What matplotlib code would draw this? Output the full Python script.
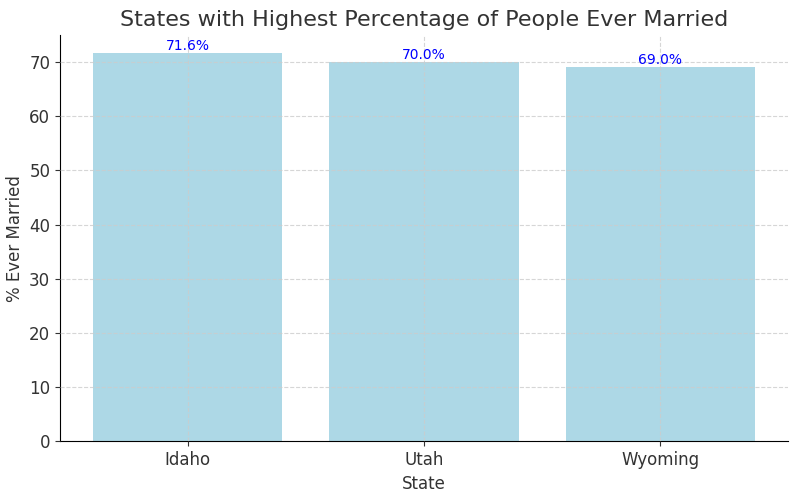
import matplotlib
matplotlib.use("Agg")
import matplotlib.pyplot as plt

states = ["Idaho", "Utah", "Wyoming"]
values = [71.6, 70.0, 69.0]
labels = ["71.6%", "70.0%", "69.0%"]

fig, ax = plt.subplots(figsize=(8, 4.96), dpi=100)
bars = ax.bar(states, values, color="lightblue", width=0.8, zorder=2)
for b, l in zip(bars, labels):
    ax.text(b.get_x() + b.get_width()/2, b.get_height(), l, ha="center", va="bottom", color="blue", fontsize=10)
ax.set_title("States with Highest Percentage of People Ever Married", fontsize=16, color="#333333")
ax.set_xlabel("State", fontsize=12, color="#333333")
ax.set_ylabel("% Ever Married", fontsize=12, color="#333333")
ax.tick_params(labelsize=12, colors="#333333")
ax.grid(True, linestyle="--", color="#cccccc", alpha=0.8, zorder=0)
ax.set_axisbelow(False)
ax.spines["top"].set_visible(False)
ax.spines["right"].set_visible(False)
ax.set_ylim(0, 75)
fig.subplots_adjust(left=0.075, right=0.985, top=0.93, bottom=0.11)
fig.savefig("out.png")
